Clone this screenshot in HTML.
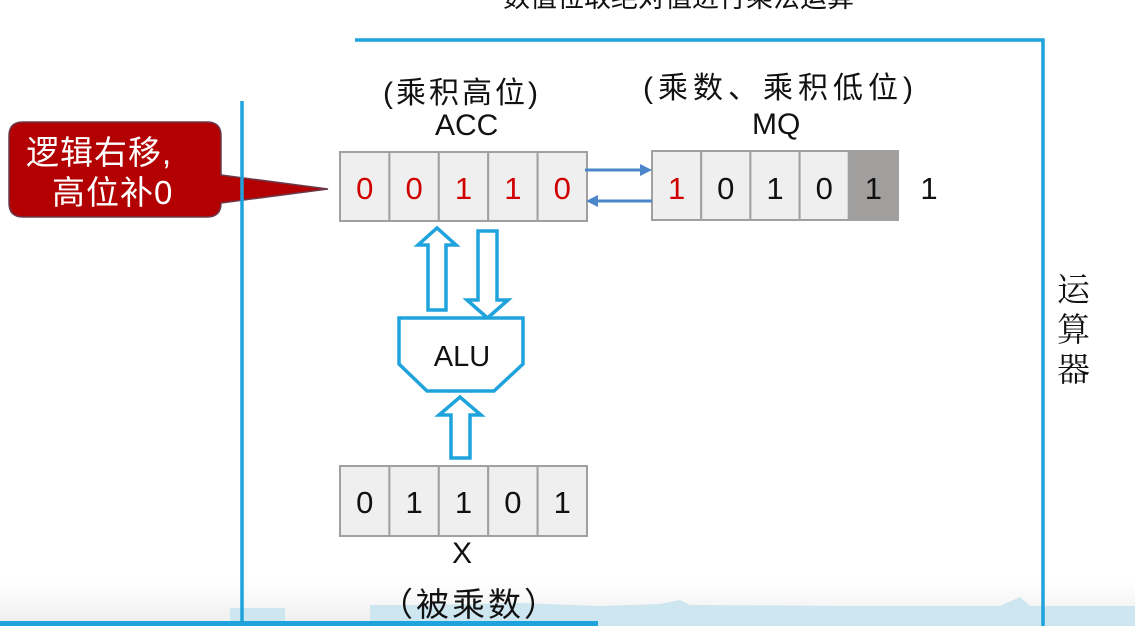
<!DOCTYPE html>
<html><head><meta charset="utf-8">
<style>
body{margin:0;width:1135px;height:626px;overflow:hidden;background:#fff;position:relative;font-family:"Liberation Sans","Noto Sans CJK SC",sans-serif;}
.t{position:absolute;white-space:nowrap;color:#111;}
</style></head><body>
<svg width="1135" height="626" style="position:absolute;left:0;top:0" font-family="Liberation Sans, Noto Sans CJK SC, sans-serif">
<defs>
<linearGradient id="bg" x1="0" y1="0" x2="0" y2="1"><stop offset="0" stop-color="#fff"/><stop offset="1" stop-color="#eee"/></linearGradient>
</defs>
<rect x="0" y="580" width="1135" height="46" fill="url(#bg)"/>
<path d="M230 626 V608 H285 V626 Z M370 626 V605 H420 L520 603 L600 606 L660 604 L680 600 L690 605 L860 606 L1000 606 L1020 597 L1030 606 L1135 606 V626Z" fill="#cde6f0"/>
<rect x="0" y="621" width="598" height="5" fill="#1fa3dc"/>
<path d="M355 40 H1043 V626" fill="none" stroke="#1fa3dc" stroke-width="3.5"/>
<path d="M23 122 H207 Q221 122 221 136 V175 L328 189 L221 203 V203 Q221 217 207 217 H23 Q9 217 9 203 V136 Q9 122 23 122Z" fill="#b30000" stroke="#6a3a4a" stroke-width="1.5"/>
<line x1="242" y1="101" x2="242" y2="626" stroke="#1fa3dc" stroke-width="3.5"/>
<g stroke="#a0a0a0" stroke-width="2" fill="#efefef">
<rect x="340" y="152" width="49.4" height="69"/><rect x="389.4" y="152" width="49.4" height="69"/><rect x="438.8" y="152" width="49.4" height="69"/><rect x="488.2" y="152" width="49.4" height="69"/><rect x="537.6" y="152" width="49.4" height="69"/>
<rect x="652" y="151" width="49.2" height="69"/><rect x="701.2" y="151" width="49.2" height="69"/><rect x="750.4" y="151" width="49.2" height="69"/><rect x="799.6" y="151" width="49.2" height="69"/><rect x="848.8" y="151" width="49.2" height="69" fill="#a19e9e"/>
<rect x="340" y="466" width="49.4" height="70"/><rect x="389.4" y="466" width="49.4" height="70"/><rect x="438.8" y="466" width="49.4" height="70"/><rect x="488.2" y="466" width="49.4" height="70"/><rect x="537.6" y="466" width="49.4" height="70"/>
</g>
<g font-size="31" text-anchor="middle">
<g fill="#d00000"><text x="364.7" y="199">0</text><text x="414.1" y="199">0</text><text x="463.5" y="199">1</text><text x="512.9" y="199">1</text><text x="562.3" y="199">0</text><text x="676.6" y="199">1</text></g>
<g fill="#111"><text x="725.8" y="199">0</text><text x="775" y="199">1</text><text x="824.2" y="199">0</text><text x="873.4" y="199">1</text><text x="929" y="199">1</text>
<text x="364.7" y="513">0</text><text x="414.1" y="513">1</text><text x="463.5" y="513">1</text><text x="512.9" y="513">0</text><text x="562.3" y="513">1</text></g>
</g>
<g stroke="#4a86c8" stroke-width="3" fill="#4a86c8">
<line x1="585" y1="170" x2="642" y2="170"/><path d="M652 170 L640 164 L640 176Z" stroke="none"/>
<line x1="597" y1="201" x2="652" y2="201"/><path d="M586 201 L598 195 L598 207Z" stroke="none"/>
</g>
<g fill="#fff" stroke="#1fa3dc" stroke-width="3.5" stroke-linejoin="miter">
<path d="M428 310 V245 H418 L437 228 L456 245 H446 V310Z"/>
<path d="M478 231 H497 V300 H508 L487.5 318 L467 300 H478Z"/>
<path d="M399 318 H523 V364 L494 391 H427 L399 364Z"/>
<path d="M451 458 V415 H439 L460 397 L481 415 H470 V458Z"/>
</g>
<text x="462" y="366" font-size="29" text-anchor="middle" fill="#111">ALU</text>
</svg>
<div class="t" style="left:503px;top:-24px;font-size:27px;">数值位取绝对值进行乘法运算</div>
<div class="t" style="left:383px;top:68px;font-size:30px;letter-spacing:3px;">(乘积高位)</div>
<div class="t" style="left:435px;top:109px;font-size:30px;">ACC</div>
<div class="t" style="left:643px;top:63px;font-size:30px;letter-spacing:5px;">(乘数、乘积低位)</div>
<div class="t" style="left:752px;top:108px;font-size:30px;">MQ</div>
<div class="t" style="left:452px;top:537px;font-size:30px;">X</div>
<div class="t" style="left:380px;top:578px;font-size:33px;letter-spacing:3px;">（被乘数）</div>
<div class="t" style="left:26px;top:126px;font-size:33px;color:#fff;letter-spacing:1px;">逻辑右移,</div>
<div class="t" style="left:52px;top:166px;font-size:33px;color:#fff;letter-spacing:1px;">高位补0</div>
<div class="t" style="left:1057px;top:268px;font-size:33px;line-height:40px;width:36px;font-family:'Noto Serif CJK SC',serif;">运<br>算<br>器</div>
</body></html>
